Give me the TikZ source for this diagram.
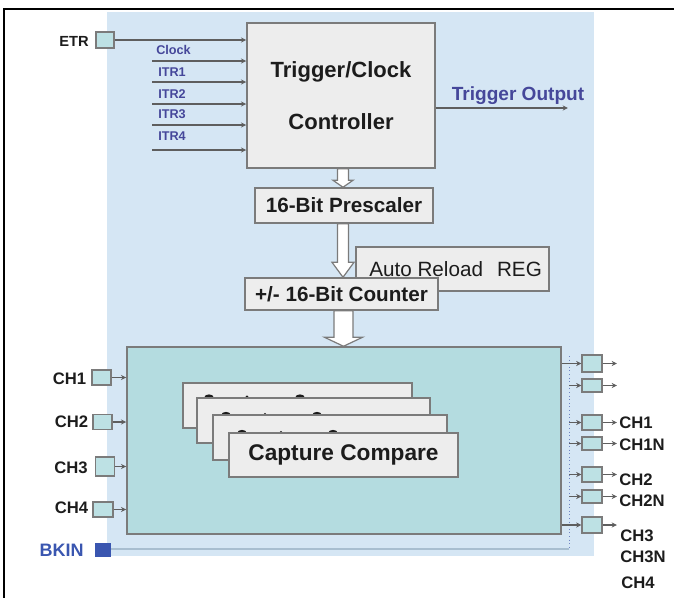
\documentclass[tikz,border=0pt]{standalone}
\usepackage{fontspec}
\setmainfont{Liberation Sans}
\usetikzlibrary{arrows.meta,calc}
\newdimen\pxu \pxu=0.75pt
\definecolor{bgblue}{HTML}{D5E6F4}
\definecolor{bigteal}{HTML}{B4DCE0}
\definecolor{boxgray}{HTML}{EDEDED}
\definecolor{edgegray}{HTML}{7B7B7B}
\definecolor{wiregray}{HTML}{5E5E5E}
\definecolor{portfill}{HTML}{BDE1E4}
\definecolor{itrblue}{HTML}{45479A}
\definecolor{bkblue}{HTML}{3A56B0}
\definecolor{dotblue}{HTML}{7084C4}
\definecolor{bkline}{HTML}{A8BED0}
\definecolor{txt}{HTML}{1C1C1C}
\newcommand\harrow[5]{%
  \draw[hollow] let \p1=(#1), \p2=(#2) in
    (\x1-#3\pxu,\y1) -- (\x1-#3\pxu,\y2+#5\pxu) -- (\x1-#4\pxu,\y2+#5\pxu) --
    (\x1,\y2) -- (\x1+#4\pxu,\y2+#5\pxu) -- (\x1+#3\pxu,\y2+#5\pxu) --
    (\x1+#3\pxu,\y1) -- cycle;}
\begin{document}
\begin{tikzpicture}[x=0.75pt,y=-0.75pt,
  blk/.style={draw=edgegray, line width=1.1pt, fill=boxgray, inner sep=0pt, text=txt},
  port/.style={draw=edgegray, line width=0.8pt, fill=portfill, minimum width=19\pxu, minimum height=15\pxu, inner sep=0pt},
  wire/.style={draw=wiregray, line width=1pt, -{Stealth[length=4pt,width=3.8pt]}},
  hollow/.style={draw=edgegray, line width=0.9pt, fill=white},
  itr/.style={text=itrblue, font=\fontsize{9.5}{11}\selectfont\bfseries, inner sep=0pt, anchor=west},
  chl/.style={text=txt, font=\fontsize{12.5}{14}\selectfont\bfseries, inner sep=0pt},
  blob/.style={fill=txt},
]
\useasboundingbox (0,0) rectangle (674,597);
% background
\fill[bgblue] (107,12) rectangle (594,556);
% frame
\draw[black, line width=1.6pt] (4,600) -- (4,9) -- (678,9);

% trigger / clock controller
\node[blk, minimum width=188\pxu, minimum height=145\pxu, align=center,
      font=\fontsize{16.5}{39}\selectfont\bfseries] (ctrl) at (341,95.5) {Trigger/Clock\\Controller};

% ETR
\node[port, minimum width=18\pxu, minimum height=16\pxu] (etr) at (105,40) {};
\node[chl, anchor=east, font=\fontsize{11}{13}\selectfont\bfseries] (etrl) at (89,41) {ETR};
\draw[wire] (etr.east) -- (etr.east -| ctrl.west);

% internal trigger inputs
\foreach \i/\y in {1/61,2/82,3/104,4/125,5/150}{
  \coordinate (in\i) at (152,\y);
  \draw[wire] (in\i) -- (in\i -| ctrl.west);
}
\node[itr] (lclk) at (156,50) {Clock};
\node[itr] (litr1) at (158,72) {ITR1};
\node[itr] (litr2) at (158,94) {ITR2};
\node[itr] (litr3) at (158,114) {ITR3};
\node[itr] (litr4) at (158,136) {ITR4};

% trigger output
\coordinate (tout) at (568,108);
\draw[wire] (ctrl.east |- tout) -- (tout);
\node[text=itrblue, font=\fontsize{14.3}{16}\selectfont\bfseries, inner sep=0pt] (toutl) at (518,96) {Trigger Output};

% prescaler
\node[blk, minimum width=178\pxu, minimum height=35\pxu, font=\fontsize{15.5}{18}\selectfont\bfseries] (pre) at (344,205.5) {16-Bit Prescaler};
\harrow{$(ctrl.south)+(2,0)$}{pre.north}{5.5}{10}{7}

% auto reload
\node[blk, minimum width=193\pxu, minimum height=44\pxu, font=\fontsize{15.5}{18}\selectfont] (arr) at (452.5,269) {\hspace{0.3em}Auto Reload\hspace{0.4em} REG};
% counter
\node[blk, minimum width=193\pxu, minimum height=32\pxu, font=\fontsize{15.5}{18}\selectfont\bfseries] (cnt) at (341.5,294) {+/- 16-Bit Counter};
\harrow{$(pre.south)+(-1,0)$}{cnt.north}{5.5}{11}{15}

% capture compare block
\node[draw=edgegray, line width=1.1pt, fill=bigteal, minimum width=434\pxu, minimum height=187\pxu, inner sep=0pt] (big) at (344,440.5) {};
\harrow{$(cnt.south)+(2,0)$}{big.north}{9.5}{19}{9}

\tikzset{ccbox/.style={blk, minimum height=45\pxu, font=\fontsize{17}{20}\selectfont\bfseries}}
\node[ccbox, minimum width=229\pxu] (cc1) at (297.5,405.5) {};
\fill[blob] (209,397) ellipse (4.5 and 2.6);
\fill[blob] (247,397) ellipse (1.6 and 1.6);
\fill[blob] (300,397) ellipse (4.5 and 2.6);
\node[ccbox, minimum width=233\pxu] (cc2) at (313.5,420.5) {};
\fill[blob] (226,414.5) ellipse (4.5 and 2.6);
\fill[blob] (265,414.5) ellipse (1.6 and 1.6);
\fill[blob] (317,414.5) ellipse (4.5 and 2.6);
\node[ccbox, minimum width=234\pxu] (cc3) at (330,437.5) {};
\fill[blob] (242,432.5) ellipse (4.5 and 2.6);
\fill[blob] (281,432.5) ellipse (1.6 and 1.6);
\fill[blob] (333,432.5) ellipse (4.5 and 2.6);
\node[ccbox, minimum width=229\pxu, minimum height=44\pxu] (cc4) at (343.5,455) {Capture Compare};

% left channel inputs
\node[port] (p1) at (101.5,377.5) {};
\node[port] (p2) at (102.5,422) {};
\node[port, minimum height=19\pxu] (p3) at (105,466.5) {};
\node[port, minimum width=20\pxu] (p4) at (103,509.5) {};
\node[chl, anchor=east] (l1) at ($(p1.west)+(-5,1.5)$) {CH1};
\node[chl, anchor=east] (l2) at ($(p2.west)+(-4,0)$) {CH2};
\node[chl, anchor=east] (l3) at ($(p3.west)+(-7,1.5)$) {CH3};
\node[chl, anchor=east] (l4) at ($(p4.west)+(-4,-1.5)$) {CH4};
\foreach \i in {1,2,3,4}{ \draw[wire] (p\i.east) -- (p\i.east -| big.west); }

% BKIN
\node[fill=bkblue, minimum width=16\pxu, minimum height=14\pxu, inner sep=0pt] (bkin) at (103,550) {};
\node[text=bkblue, font=\fontsize{13.5}{16}\selectfont\bfseries, inner sep=0pt, anchor=east] (bkl) at (84,550) {BKIN};
\coordinate (dtop) at (569,356);
\coordinate (dbot) at (569,549);
\draw[bkline, line width=0.9pt] (bkin.east |- dbot) -- (dbot);
\draw[dotblue, line width=0.7pt, dotted] (dtop) -- (dbot);

% right outputs
\foreach \n/\y/\h in {a/363.5/17, b/385.5/13, c/422.5/15, d/443.5/13, e/474.5/15, f/496.5/13, g/525/16}{
  \node[port, minimum width=20\pxu, minimum height=\h\pxu] (r\n) at (592,\y) {};
  \coordinate (o\n) at (617,\y);
  \draw[wire] (r\n.east) -- (o\n);
}
\draw[wire] (big.east |- ra) -- (ra.west);
\draw[wire] (big.east |- rg) -- (rg.west);
\foreach \n in {b,c,d,e,f}{ \draw[wire] (dtop |- r\n) -- (r\n.west); }

\node[chl, anchor=west] (rc1) at (619,423) {CH1};
\node[chl, anchor=west] (rc1n) at (619,445) {CH1N};
\node[chl, anchor=west] (rc2) at (619,480) {CH2};
\node[chl, anchor=west] (rc2n) at (619,501) {CH2N};
\node[chl, anchor=west] (rc3) at (620,536) {CH3};
\node[chl, anchor=west] (rc3n) at (620,557) {CH3N};
\node[chl, anchor=west] (rc4) at (621,583) {CH4};
\end{tikzpicture}
\end{document}
